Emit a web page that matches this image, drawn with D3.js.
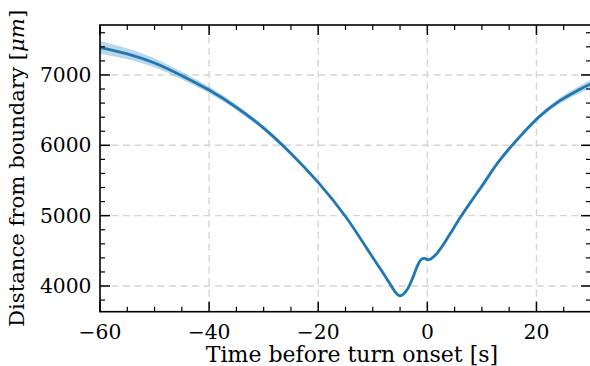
<!DOCTYPE html>
<html><head><meta charset="utf-8">
<script src="https://cdn.jsdelivr.net/npm/d3@7"></script>
<style>
html,body{margin:0;padding:0;background:#fff;}
svg{display:block;}
text{font-family:"DejaVu Serif",serif;}
</style></head>
<body>
<script>
const times = [-60,-55,-50,-45,-40,-35,-30,-25,-20,-15,-10,-8.5,-7,-6.2,-5.5,-5,-4.4,-3.6,-2.6,-1.8,-1.1,-0.5,0,0.6,1.5,2.5,4,6,8,10,13,16.8,20.5,24.1,27.8,30];
const meanDist = [7390,7300,7170,6990,6785,6540,6245,5885,5472,4988,4405,4230,4050,3950,3880,3862,3885,3960,4130,4290,4380,4392,4375,4385,4440,4540,4720,4970,5200,5420,5760,6110,6407,6625,6790,6875];
const halfWidth = [90,78,65,54,46,40,34,27,20,16,14,14,14,14,14,14,14,14,14,14,14,14,14,14,15,15,16,18,20,22,26,30,35,42,50,56];
const xTicks = [-60,-40,-20,0,20];
const yTicks = [4000,5000,6000,7000];
const xLabel = "Time before turn onset [s]";
const yLabel = "Distance from boundary [";
const yUnit = "μm";

const W = 590, H = 366;
const m = {left:100, right:591, top:25, bottom:311.7};
const svg = d3.select("body").append("svg").attr("width",W).attr("height",H);
const x = d3.scaleLinear().domain([-60,30]).range([m.left,m.right]);
const y = d3.scaleLinear().domain([3635,7710]).range([m.bottom,m.top]);

const data = times.map((t,i)=>({t, v:meanDist[i], h:halfWidth[i]}));

// grid
const grid = svg.append("g").attr("stroke","#d6d6d6").attr("stroke-width",1.4).attr("stroke-dasharray","7,4.5");
xTicks.forEach(t=>{ if(t>-60) grid.append("line").attr("x1",x(t)).attr("x2",x(t)).attr("y1",m.top).attr("y2",m.bottom); });
yTicks.forEach(v=>grid.append("line").attr("x1",m.left).attr("x2",m.right).attr("y1",y(v)).attr("y2",y(v)));

// band and line
svg.append("clipPath").attr("id","c").append("rect").attr("x",m.left).attr("y",m.top).attr("width",m.right-m.left).attr("height",m.bottom-m.top);
const area = d3.area().x(d=>x(d.t)).y0(d=>y(d.v-d.h)).y1(d=>y(d.v+d.h)).curve(d3.curveCatmullRom);
const line = d3.line().x(d=>x(d.t)).y(d=>y(d.v)).curve(d3.curveCatmullRom);
svg.append("path").datum(data).attr("d",area).attr("fill","#1f77b4").attr("fill-opacity",0.3).attr("clip-path","url(#c)");
svg.append("path").datum(data).attr("d",line).attr("fill","none").attr("stroke","#1f77b4").attr("stroke-width",2.8).attr("clip-path","url(#c)");

// axes (ticks inward on all sides)
const fmt = d=> d<0 ? "\u2212"+Math.abs(d) : String(d);
const xMinor = d3.range(-60,30.01,5).filter(t=>!xTicks.includes(t));
const yMinor = d3.range(3800,7700,200).filter(v=>!yTicks.includes(v));
const ax = svg.append("g").attr("stroke","#000");
function tick(x1,y1,x2,y2,w){ax.append("line").attr("x1",x1).attr("y1",y1).attr("x2",x2).attr("y2",y2).attr("stroke-width",w);}
xTicks.forEach(t=>{ tick(x(t),m.bottom,x(t),m.bottom-10,1.5); tick(x(t),m.top,x(t),m.top+10,1.5); });
xMinor.forEach(t=>{ tick(x(t),m.bottom,x(t),m.bottom-5,1.2); tick(x(t),m.top,x(t),m.top+5,1.2); });
yTicks.forEach(v=>{ tick(m.left,y(v),m.left+10,y(v),1.5); tick(m.right,y(v),m.right-10,y(v),1.5); });
yMinor.forEach(v=>{ tick(m.left,y(v),m.left+5,y(v),1.2); tick(m.right,y(v),m.right-5,y(v),1.2); });
svg.append("rect").attr("x",m.left).attr("y",m.top).attr("width",m.right-m.left).attr("height",m.bottom-m.top)
  .attr("fill","none").attr("stroke","#000").attr("stroke-width",1.6);

// tick labels
const tl = svg.append("g").attr("font-size",20.3).attr("fill","#000");
xTicks.forEach(t=>tl.append("text").attr("x",x(t)).attr("y",338.5).attr("text-anchor","middle").text(fmt(t)));
yTicks.forEach(v=>tl.append("text").attr("x",91.5).attr("y",y(v)+7).attr("text-anchor","end").text(fmt(v)));

// axis labels
svg.append("text").attr("x",352).attr("y",362).attr("text-anchor","middle").attr("font-size",22).text(xLabel);
const yl = svg.append("text").attr("transform",`translate(24,${(m.top+m.bottom)/2}) rotate(-90)`).attr("text-anchor","middle").attr("font-size",21.2);
yl.append("tspan").text(yLabel);
yl.append("tspan").attr("font-style","italic").text(yUnit);
yl.append("tspan").text("]");
</script>
</body></html>
